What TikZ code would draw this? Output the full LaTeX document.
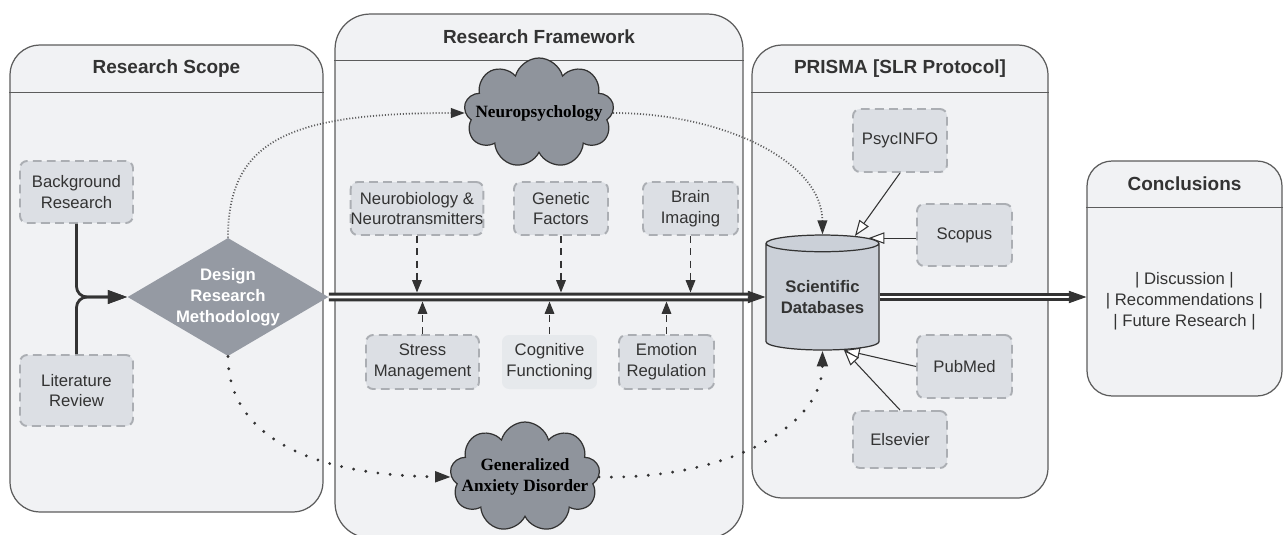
\documentclass[tikz,border=0pt]{standalone}
\usepackage{fontspec}
\setmainfont{Liberation Sans}
\newfontfamily\cloudfont{Liberation Serif}
\usetikzlibrary{shapes.geometric,shapes.symbols,arrows.meta,positioning}

\definecolor{panelfill}{HTML}{F1F2F4}
\definecolor{paneledge}{HTML}{5C5C5C}
\definecolor{boxfill}{HTML}{DCDFE4}
\definecolor{boxedge}{HTML}{ABAEB3}
\definecolor{dmdfill}{HTML}{959AA3}
\definecolor{cloudfill}{HTML}{8F949C}
\definecolor{dbfill}{HTML}{CBD0D8}
\definecolor{darkline}{HTML}{333333}
\definecolor{dotgray}{HTML}{5E5E5E}
\definecolor{textgray}{HTML}{333333}

\begin{document}
\begin{tikzpicture}[
    x=0.02cm, y=-0.02cm,
    panel/.style={rectangle, draw=paneledge, fill=panelfill, line width=0.7pt, rounded corners=0.6cm, inner sep=0pt},
    divider/.style={draw=paneledge, line width=0.7pt},
    header/.style={font=\fontsize{10.8}{13}\selectfont\bfseries, text=textgray},
    srcbox/.style={rectangle, draw=boxedge, fill=boxfill, line width=1.1pt, dash pattern=on 5pt off 3pt, rounded corners=4pt, inner sep=0pt, minimum height=1.08cm, font=\fontsize{9.5}{11.8}\selectfont, text=textgray, align=center},
    decision/.style={diamond, aspect=1.7, fill=dmdfill, inner sep=0pt, minimum width=4cm, minimum height=2.36cm, font=\fontsize{9.5}{11.8}\selectfont\bfseries, text=white, align=center},
    topic/.style={cloud, cloud puffs=9, cloud ignores aspect, draw=darkline, fill=cloudfill, line width=0.7pt, minimum width=3cm, minimum height=2.2cm, inner xsep=-0.4cm, inner ysep=0pt, font=\cloudfont\fontsize{9.8}{12}\selectfont\bfseries, text=black, align=center},
    store/.style={cylinder, shape border rotate=90, aspect=0.2, draw=darkline, fill=dbfill, line width=0.7pt, minimum width=2.26cm, minimum height=2.3cm, inner sep=0pt, font=\fontsize{9.5}{11.8}\selectfont\bfseries, text=textgray, align=center},
    joinline/.style={draw=darkline, line width=1.6pt, rounded corners=6pt, -{Triangle[length=11pt,width=7.5pt]}},
    flow/.style={draw=darkline, line width=1.7pt, double=white, double distance=1.7pt, shorten >=9pt},
    flowhead/.style={draw=darkline, line width=0.5pt, -{Triangle[length=10pt,width=7pt]}},
    feed/.style={draw=darkline, line width=0.6pt, dash pattern=on 4pt off 3pt, shorten >=2.6pt, -{Triangle[length=7pt,width=5.5pt]}},
    dblink/.style={draw=darkline, line width=0.6pt, -{Triangle[length=9pt,width=6.5pt,fill=white]}},
    finedots/.style={draw=dotgray, line width=1pt, dash pattern=on 0.6pt off 1.1pt, -{Triangle[length=8pt,width=5.5pt,color=darkline]}},
    bigdots/.style={draw=darkline, line width=1.8pt, line cap=round, dash pattern=on 0pt off 7pt, -{Triangle[length=9pt,width=6pt]}},
]
    \useasboundingbox (0,0) rectangle (1284,534);

    % Panels with their title bars
    \node[panel, minimum width=6.26cm, minimum height=9.34cm] (scope) at (166.5,278.5) {};
    \draw[divider] ([yshift=-0.96cm]scope.north west) -- ([yshift=-0.96cm]scope.north east);
    \node[header] (scopehd) at ([yshift=-0.48cm]scope.north) {Research Scope};

    \node[panel, rounded corners=0.7cm, minimum width=8.16cm, minimum height=10.48cm] (frame) at (539,276) {};
    \draw[divider] ([yshift=-0.94cm]frame.north west) -- ([yshift=-0.94cm]frame.north east);
    \node[header] (framehd) at ([yshift=-0.46cm]frame.north) {Research Framework};

    \node[panel, minimum width=5.92cm, minimum height=9.06cm] (prisma) at (900,271.5) {};
    \draw[divider] ([yshift=-0.96cm]prisma.north west) -- ([yshift=-0.96cm]prisma.north east);
    \node[header] (prismahd) at ([yshift=-0.48cm]prisma.north) {PRISMA [SLR Protocol]};

    \node[panel, rounded corners=0.5cm, minimum width=3.9cm, minimum height=4.7cm] (concl) at (1184.5,278.5) {};
    \draw[divider] ([yshift=-0.94cm]concl.north west) -- ([yshift=-0.94cm]concl.north east);
    \node[header] (conclhd) at ([yshift=-0.46cm]concl.north) {Conclusions};

    % Research scope
    \node[srcbox, minimum width=2.26cm, minimum height=1.24cm] (bg) at (76.5,192) {Background\\Research};
    \node[srcbox, minimum width=2.26cm, minimum height=1.42cm] (lit) at (76.5,390.5) {Literature\\Review};
    \node[decision] (dmd) at (228,297) {Design\\Research\\Methodology};

    % Research framework
    \node[topic] (neuro) at (539,113) {Neuropsychology};
    \node[topic] (gad) at (525,477) {Generalized\\Anxiety Disorder};
    \node[srcbox, minimum width=2.64cm, minimum height=1.06cm] (nbio) at (417,208.5) {Neurobiology \&\\Neurotransmitters};
    \node[srcbox, minimum width=1.88cm, minimum height=1.06cm] (gene) at (561,208.5) {Genetic\\Factors};
    \node[srcbox, minimum width=1.9cm, minimum height=1.06cm] (brain) at (690.5,208.5) {Brain\\Imaging};
    \node[srcbox, minimum width=2.26cm] (stress) at (422.5,362) {Stress\\Management};
    \node[srcbox, draw=none, fill=boxfill!70, minimum width=1.9cm] (cogn) at (549.5,362) {Cognitive\\Functioning};
    \node[srcbox, minimum width=1.9cm] (emot) at (666.5,362) {Emotion\\Regulation};

    % PRISMA databases
    \node[store] (db) at (822.5,297) {Scientific\\Databases};
    \node[srcbox, minimum width=1.88cm, minimum height=1.26cm] (psyc) at (900,140.5) {PsycINFO};
    \node[srcbox, minimum width=1.9cm, minimum height=1.24cm] (scopus) at (964.5,235) {Scopus};
    \node[srcbox, minimum width=1.9cm, minimum height=1.26cm] (pubmed) at (964.5,366.5) {PubMed};
    \node[srcbox, minimum width=1.88cm, minimum height=1.14cm] (elsev) at (900,439.5) {Elsevier};

    % Conclusions
    \node[font=\fontsize{9.5}{11.8}\selectfont, text=textgray, align=center] (outcomes) at (1184.5,301) {| Discussion |\\| Recommendations |\\| Future Research |};
    \coordinate (conclin) at (db.east -| concl.west);

    % Scope into methodology
    \draw[joinline] (bg.south) |- (dmd.west);
    \draw[joinline] (lit.north) |- (dmd.west);

    % Main flow
    \draw[flow] (dmd.east) -- (db.west);
    \draw[flowhead] ([xshift=-10pt]db.west) -- (db.west);
    \draw[flow] (db.east) -- (conclin);
    \draw[flowhead] ([xshift=-10pt]conclin) -- (conclin);

    % Factors feeding the main flow
    \foreach \n in {nbio,gene,brain}
        \draw[feed] (\n.south) -- (\n.south |- dmd.east);
    \foreach \n in {stress,cogn,emot}
        \draw[feed] (\n.north) -- (\n.north |- dmd.east);

    % Databases
    \draw[dblink] (psyc.south) -- (db.62);
    \draw[dblink] (db.52 -| scopus.west) -- (db.52);
    \draw[dblink] (pubmed.west) -- (db.-68);
    \draw[dblink] (elsev.north) -- (db.-68);

    % Topic curves
    \draw[finedots] (dmd.north) .. controls (228,140) and (290,113) .. (neuro.west);
    \draw[finedots] (neuro.east) .. controls (720,113) and (822,160) .. (db.north);
    \draw[bigdots] (dmd.south) .. controls (228,430) and (300,475) .. (gad.west);
    \draw[bigdots] (gad.east) .. controls (720,480) and (822,430) .. (db.south);
\end{tikzpicture}
\end{document}
